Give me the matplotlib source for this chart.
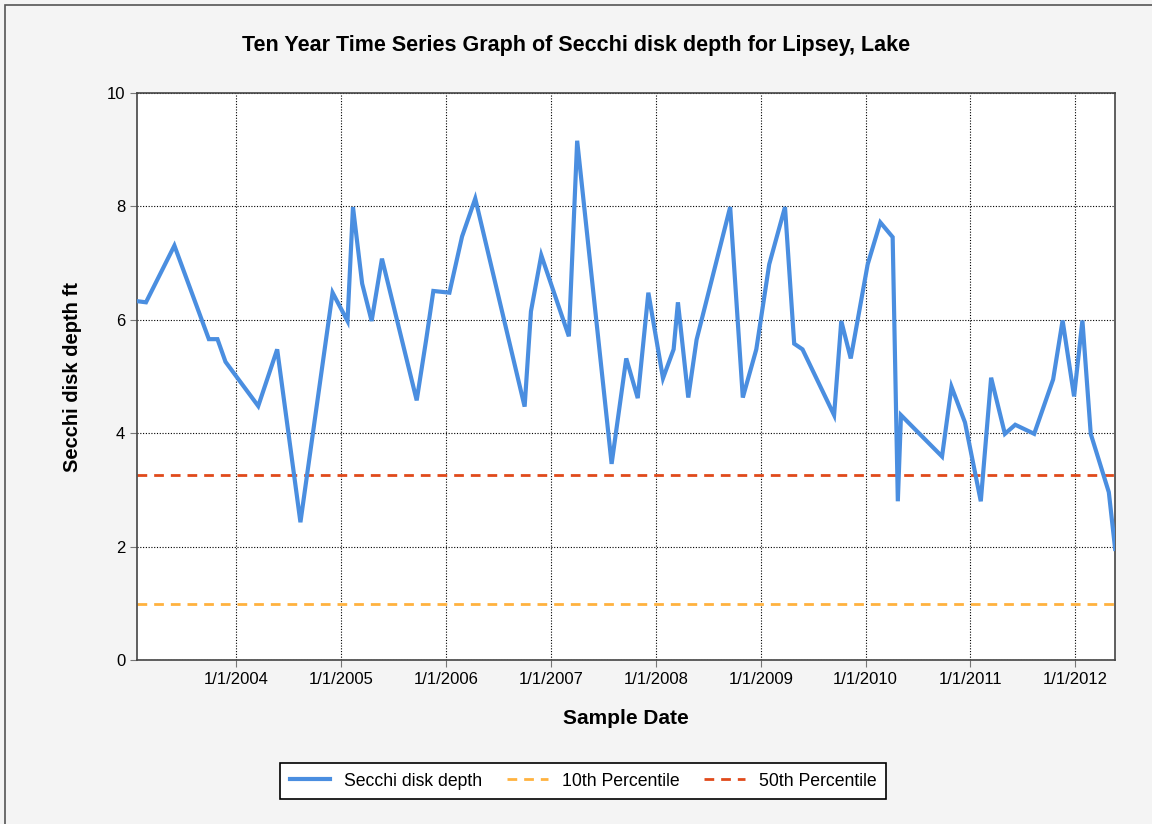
import matplotlib
import numpy as np
import pandas as pd

matplotlib.use("Agg")
import matplotlib.dates as mdates  # noqa: E402
import matplotlib.pyplot as plt  # noqa: E402
from matplotlib.patches import Rectangle  # noqa: E402
from matplotlib.ticker import FuncFormatter  # noqa: E402

plt.rcParams["font.family"] = ["Liberation Sans", "DejaVu Sans"]

SAMPLE_DATES = [
    "2003-01-20", "2003-02-20", "2003-05-30", "2003-09-27", "2003-10-27", "2003-11-24",
    "2004-03-17", "2004-05-22", "2004-08-11", "2004-12-01",
    "2005-01-22", "2005-02-10", "2005-03-14", "2005-04-16", "2005-05-22", "2005-09-20",
    "2005-10-23", "2005-11-17",
    "2006-01-12", "2006-02-25", "2006-04-12", "2006-10-01", "2006-10-23", "2006-11-28",
    "2007-03-04", "2007-04-02", "2007-07-31", "2007-09-20", "2007-10-30", "2007-12-06",
    "2008-01-26", "2008-03-03", "2008-03-18", "2008-04-23", "2008-05-22", "2008-09-16",
    "2008-10-30", "2008-12-16",
    "2009-01-30", "2009-03-26", "2009-04-27", "2009-05-26", "2009-09-13", "2009-10-08",
    "2009-11-10",
    "2010-01-08", "2010-02-21", "2010-04-05", "2010-04-23", "2010-05-04", "2010-09-24",
    "2010-10-27", "2010-12-13",
    "2011-02-06", "2011-03-14", "2011-05-01", "2011-06-06", "2011-08-11", "2011-10-16",
    "2011-11-18", "2011-12-28",
    "2012-01-26", "2012-02-24", "2012-04-27", "2012-05-19",
]
SECCHI_DEPTH = [
    6.33, 6.31, 7.31, 5.66, 5.66, 5.26,
    4.48, 5.48, 2.43, 6.48,
    5.98, 7.99, 6.64, 5.98, 7.08, 4.58,
    5.65, 6.51,
    6.48, 7.47, 8.14, 4.47, 6.15, 7.14,
    5.71, 9.16, 3.46, 5.32, 4.62, 6.48,
    4.97, 5.48, 6.31, 4.63, 5.65, 7.99,
    4.63, 5.48,
    6.98, 7.99, 5.58, 5.48, 4.32, 5.98,
    5.32,
    6.98, 7.72, 7.46, 2.80, 4.32, 3.59,
    4.82, 4.19,
    2.80, 4.98, 3.99, 4.15, 3.99, 4.95,
    5.99, 4.65,
    5.99, 3.99, 2.96, 1.96,
]
PERCENTILE_10 = 0.98
PERCENTILE_50 = 3.27
TICK_YEARS = list(range(2004, 2013))


def short_date(value, _pos):
    d = mdates.num2date(value)
    return f"{d.month}/{d.day}/{d.year}"


dates = pd.to_datetime(SAMPLE_DATES)
ticks = pd.to_datetime([f"{y}-01-01" for y in TICK_YEARS])

fig = plt.figure(figsize=(11.52, 8.24), dpi=100, facecolor="#f4f4f4")
fig.patches.append(Rectangle((0.004, -0.01), 1.2, 1.004, transform=fig.transFigure,
                             fill=False, edgecolor="#555555", linewidth=1.2))
ax = fig.add_axes([0.119, 0.199, 0.849, 0.688])
ax.set_facecolor("white")

ax.plot(dates, SECCHI_DEPTH, color="#4a8ee0", linewidth=3, label="Secchi disk depth",
        solid_joinstyle="miter", zorder=3)
ax.axhline(PERCENTILE_10, color="#ffb23f", linestyle=(0, (3.5, 2.5)), linewidth=2,
           label="10th Percentile", zorder=2)
ax.axhline(PERCENTILE_50, color="#e04a1b", linestyle=(0, (3.5, 2.5)), linewidth=2,
           label="50th Percentile", zorder=2)

ax.set_xlim(dates.min(), dates.max())
ax.set_ylim(0, 10)
ax.set_xticks(ticks)
ax.xaxis.set_major_formatter(FuncFormatter(short_date))
ax.set_yticks(np.arange(0, 11, 2))
ax.grid(True, color="black", linestyle=(0, (1, 1.5)), linewidth=0.8)
ax.tick_params(axis="both", labelsize=12, length=5, color="#777777")
for spine in ax.spines.values():
    spine.set_color("#444444")
    spine.set_linewidth(1.2)

ax.set_xlabel("Sample Date", fontsize=15, fontweight="bold", labelpad=16)
ax.set_ylabel("Secchi disk depth ft", fontsize=14.5, fontweight="bold", labelpad=18)
fig.text(0.5, 0.945, "Ten Year Time Series Graph of Secchi disk depth for Lipsey, Lake",
         ha="center", va="center", fontsize=15.5, fontweight="bold")

legend = fig.legend(loc="center", bbox_to_anchor=(0.506, 0.052), ncol=3, fontsize=12.7,
                    frameon=True, fancybox=False, edgecolor="black", facecolor="white",
                    framealpha=1, handlelength=2.3, columnspacing=1.4,
                    borderpad=0.55)
legend.get_frame().set_linewidth(1.2)

fig.savefig("out.png", dpi=100, facecolor=fig.get_facecolor())
